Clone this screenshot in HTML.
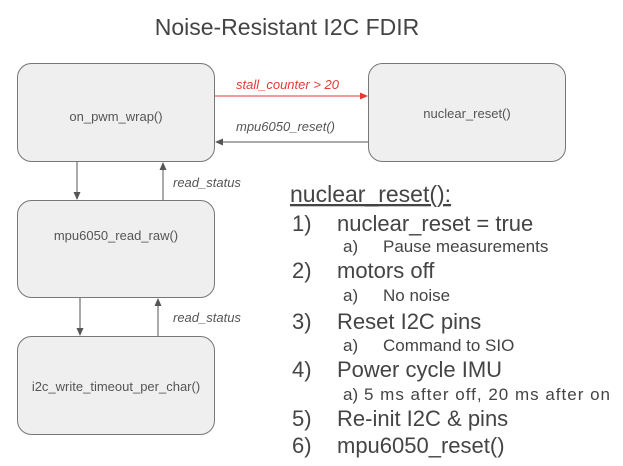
<!DOCTYPE html>
<html><head><meta charset="utf-8"><style>
html,body{margin:0;padding:0;background:#fff;}
svg{display:block;font-family:"Liberation Sans",Arial,sans-serif;}
</style></head><body>
<svg width="623" height="466" viewBox="0 0 623 466" xmlns="http://www.w3.org/2000/svg">
<defs>
<marker id="ag" markerWidth="8" markerHeight="8" refX="7" refY="4" orient="auto" markerUnits="userSpaceOnUse"><path d="M0,0.5 L8,4 L0,7.5 z" fill="#555"/></marker>
<marker id="ar" markerWidth="8" markerHeight="8" refX="7" refY="4" orient="auto" markerUnits="userSpaceOnUse"><path d="M0,0.5 L8,4 L0,7.5 z" fill="#e53935"/></marker>
</defs>
<text x="287" y="35" font-size="23" fill="#444" text-anchor="middle">Noise-Resistant I2C FDIR</text>
<g fill="#efefef" stroke="#777" stroke-width="1">
<rect x="17.5" y="63.5" width="197" height="98" rx="14"/>
<rect x="368.5" y="63.5" width="197" height="98" rx="14"/>
<rect x="17.5" y="200.5" width="197" height="97" rx="14"/>
<rect x="17.5" y="336.5" width="197" height="98" rx="14"/>
</g>
<g font-size="13" fill="#555" text-anchor="middle">
<text x="116" y="121">on_pwm_wrap()</text>
<text x="467" y="118">nuclear_reset()</text>
<text x="116" y="240">mpu6050_read_raw()</text>
<text x="116" y="391">i2c_write_timeout_per_char()</text>
</g>
<line x1="215" y1="96" x2="367" y2="96" stroke="#e53935" stroke-width="1" marker-end="url(#ar)"/>
<line x1="368" y1="142" x2="216" y2="142" stroke="#555" stroke-width="1" marker-end="url(#ag)"/>
<line x1="77" y1="162" x2="77" y2="199" stroke="#555" marker-end="url(#ag)"/>
<line x1="163" y1="200" x2="163" y2="163" stroke="#555" marker-end="url(#ag)"/>
<line x1="80" y1="298" x2="80" y2="335" stroke="#555" marker-end="url(#ag)"/>
<line x1="158" y1="336" x2="158" y2="299" stroke="#555" marker-end="url(#ag)"/>
<g font-size="13" font-style="italic">
<text x="236" y="89" fill="#e53935">stall_counter &gt; 20</text>
<text x="236" y="131" fill="#555">mpu6050_reset()</text>
<text x="173" y="187" fill="#555">read_status</text>
<text x="173" y="322" fill="#555">read_status</text>
</g>
<g fill="#444">
<text x="290" y="202" font-size="23" text-decoration="underline">nuclear_reset():</text>
<g font-size="22">
<text x="292" y="231">1)</text><text x="337" y="231">nuclear_reset = true</text>
<text x="292" y="278">2)</text><text x="337" y="278">motors off</text>
<text x="292" y="329">3)</text><text x="337" y="329">Reset I2C pins</text>
<text x="292" y="377">4)</text><text x="337" y="377">Power cycle IMU</text>
<text x="292" y="426">5)</text><text x="337" y="426">Re-init I2C &amp; pins</text>
<text x="292" y="453">6)</text><text x="337" y="453">mpu6050_reset()</text>
</g>
<g font-size="17">
<text x="343" y="252">a)</text><text x="383" y="252">Pause measurements</text>
<text x="343" y="301">a)</text><text x="383" y="301">No noise</text>
<text x="343" y="351">a)</text><text x="383" y="351">Command to SIO</text>
<text x="343" y="400">a)</text><text x="364" y="400" textLength="246" lengthAdjust="spacing">5 ms after off, 20 ms after on</text>
</g>
</g>
</svg>
</body></html>
